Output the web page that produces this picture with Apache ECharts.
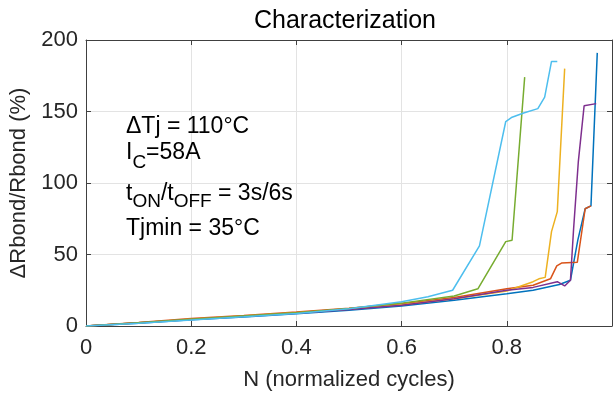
<!DOCTYPE html>
<html><head><meta charset="utf-8">
<script src="https://cdn.jsdelivr.net/npm/echarts@6/dist/echarts.min.js"></script>
<style>html,body{margin:0;padding:0;background:#fff}#c{width:616px;height:396px}</style>
</head><body><div id="c"></div>
<script>
const xTicks = [0, 0.2, 0.4, 0.6, 0.8, 1];
const yTicks = [0, 50, 100, 150, 200];
const seriesNames = ['S1', 'S2', 'S3', 'S4', 'S5', 'S6'];
const blueN = [0, 0.1, 0.2, 0.3, 0.4, 0.5, 0.6, 0.7, 0.8, 0.85, 0.9, 0.921, 0.935, 0.949, 0.96, 0.972];
const blueR = [0, 2, 4.3, 6.3, 8.5, 11, 14, 18, 22.5, 25, 29, 32, 60, 82, 84, 191];
const redN = [0, 0.1, 0.2, 0.3, 0.4, 0.5, 0.6, 0.7, 0.8, 0.85, 0.883, 0.895, 0.904, 0.934, 0.949, 0.96];
const redR = [0, 2.5, 5.2, 7.4, 9.8, 12.5, 15.5, 20, 26, 28.5, 33, 42, 44, 44.5, 82, 84];
const yellowN = [0, 0.1, 0.2, 0.3, 0.4, 0.5, 0.6, 0.7, 0.8, 0.85, 0.861, 0.873, 0.885, 0.896, 0.91];
const yellowR = [0, 2.3, 4.8, 7, 9.2, 11.8, 14.8, 19, 24.5, 31, 33, 34, 66, 80, 180];
const purpleN = [0, 0.1, 0.2, 0.3, 0.4, 0.5, 0.6, 0.7, 0.8, 0.85, 0.896, 0.91, 0.921, 0.927, 0.936, 0.947, 0.97];
const purpleR = [0, 2.2, 4.6, 6.8, 9, 11.5, 14.5, 19, 25, 27, 31, 28, 32, 68, 115, 154, 155.5];
const greenN = [0, 0.1, 0.2, 0.3, 0.4, 0.5, 0.6, 0.7, 0.745, 0.798, 0.81, 0.834];
const greenR = [0, 2.3, 4.7, 7, 9.3, 12.3, 16, 21, 26, 59, 60, 174];
const cyanN = [0, 0.1, 0.2, 0.3, 0.4, 0.5, 0.6, 0.65, 0.697, 0.748, 0.798, 0.81, 0.832, 0.859, 0.872, 0.885, 0.896];
const cyanR = [0, 2, 4.2, 6.4, 8.8, 12, 17, 20.5, 25, 56, 143, 146, 149, 152, 160, 185, 185];

const colors = ['#0072BD', '#D95319', '#EDB120', '#7E2F8E', '#77AC30', '#4DBEEE'];
const allN = [blueN, redN, yellowN, purpleN, greenN, cyanN];
const allR = [blueR, redR, yellowR, purpleR, greenR, cyanR];

const FONT = 'Liberation Sans';
const chart = echarts.init(document.getElementById('c'), null, {renderer: 'canvas'});
const grid = {left: 84, right: 4, top: 40, bottom: 68};
const axisLineStyle = {color: '#404040', width: 1};
const gridLine = {show: true, lineStyle: {color: '#e3e3e3', width: 1}};

const option = {
  backgroundColor: '#fff',
  animation: false,
  title: {
    text: 'Characterization', left: 340, top: 4, textAlign: 'center',
    textStyle: {fontFamily: FONT, fontSize: 25, fontWeight: 'normal', color: '#000'}
  },
  grid: grid,
  xAxis: [{
    type: 'value', min: xTicks[0], max: xTicks[xTicks.length - 1], interval: 0.2, position: 'bottom',
    name: 'N (normalized cycles)', nameLocation: 'middle', nameGap: 43,
    nameTextStyle: {fontFamily: FONT, fontSize: 22, color: '#262626'},
    axisLine: {onZero: false, lineStyle: axisLineStyle},
    axisTick: {inside: true, length: 5, lineStyle: axisLineStyle},
    axisLabel: {fontFamily: FONT, fontSize: 22, color: '#262626', margin: 11, showMaxLabel: false,
      formatter: v => String(Math.round(v * 10) / 10)},
    splitLine: gridLine
  }, {
    type: 'value', min: xTicks[0], max: xTicks[xTicks.length - 1], interval: 0.2, position: 'top',
    axisLine: {show: true, onZero: false, lineStyle: axisLineStyle},
    axisTick: {show: true, inside: true, length: 5, lineStyle: axisLineStyle},
    axisLabel: {show: false}, splitLine: {show: false}
  }],
  yAxis: [{
    type: 'value', min: yTicks[0], max: yTicks[yTicks.length - 1], interval: 50, position: 'left',
    name: '\u0394Rbond/Rbond (%)', nameLocation: 'middle', nameGap: 56, nameRotate: 90,
    nameTextStyle: {fontFamily: FONT, fontSize: 22, color: '#262626'},
    axisLine: {show: true, onZero: false, lineStyle: axisLineStyle},
    axisTick: {show: true, inside: true, length: 5, lineStyle: axisLineStyle},
    axisLabel: {fontFamily: FONT, fontSize: 22, color: '#262626', margin: 8},
    splitLine: gridLine
  }, {
    type: 'value', min: yTicks[0], max: yTicks[yTicks.length - 1], interval: 50, position: 'right',
    axisLine: {show: true, onZero: false, lineStyle: axisLineStyle},
    axisTick: {show: true, inside: true, length: 5, lineStyle: axisLineStyle},
    axisLabel: {show: false}, splitLine: {show: false}
  }],
  series: allN.map((ns, i) => ({
    name: seriesNames[i], type: 'line', xAxisIndex: 0, yAxisIndex: 0,
    data: ns.map((n, j) => [n, allR[i][j]]),
    showSymbol: false, symbol: 'none',
    lineStyle: {color: colors[i], width: 1.5},
    itemStyle: {color: colors[i]}, z: 3 + i
  })),
  graphic: []
};

const base = {fontFamily: FONT, fontSize: 23, color: '#000'};
const sub = {fontFamily: FONT, fontSize: 19, color: '#000', padding: [20, 0, 0, 0]};
const sub2 = {fontFamily: FONT, fontSize: 19, color: '#000', padding: [16, 0, 0, 0]};
option.graphic = [
  {type: 'text', left: 126, top: 115, z: 50, style: Object.assign({text: '\u0394Tj = 110\u00b0C'}, base)},
  {type: 'text', left: 126, top: 141, z: 50, style: {text: '{n|I}{s|C}{n|=58A}', rich: {n: base, s: sub}}},
  {type: 'text', left: 126, top: 182, z: 50, style: {text: '{n|t}{s|ON}{n|/t}{s|OFF}{n| = 3s/6s}', rich: {n: base, s: sub2}}},
  {type: 'text', left: 126, top: 217, z: 50, style: Object.assign({text: 'Tjmin = 35\u00b0C'}, base)}
];

chart.setOption(option);
</script></body></html>
